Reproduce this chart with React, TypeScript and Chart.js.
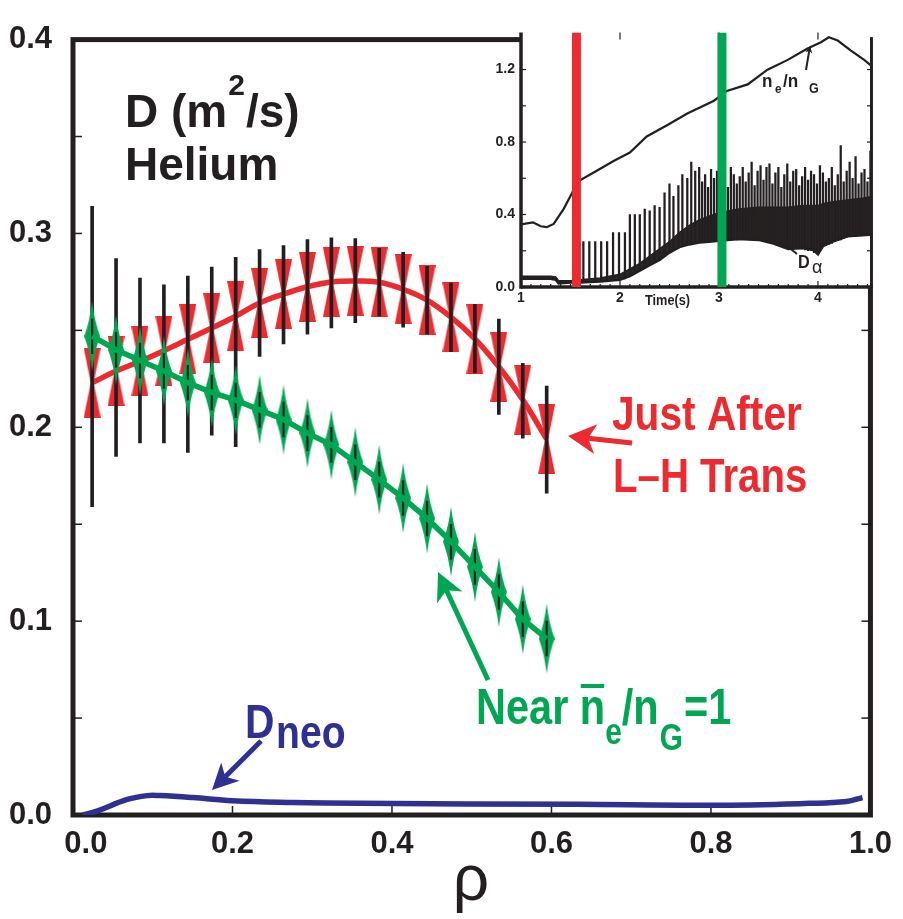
import React, { useEffect, useRef } from 'react';
import { Chart, registerables } from 'chart.js';

Chart.register(...registerables);

const FONT = "'Liberation Sans', Arial, Helvetica, sans-serif";
const INK = '#231f20';
const RED = '#ec2a30';
const GREEN = '#00a651';
const BLUE = '#2e3192';

// ---------- main panel data ----------
const rho = [0.024, 0.054, 0.084, 0.114, 0.144, 0.174, 0.204, 0.234, 0.264, 0.294, 0.324, 0.354, 0.384, 0.414, 0.444, 0.474, 0.504, 0.534, 0.564, 0.594];
const dJustAfter = [0.223, 0.229, 0.234, 0.2395, 0.2454, 0.2512, 0.2573, 0.2641, 0.2687, 0.2725, 0.275, 0.2755, 0.2748, 0.2712, 0.2656, 0.2568, 0.2456, 0.2312, 0.2142, 0.1939];
const errJustAfterLo = [0.159, 0.185, 0.192, 0.192, 0.187, 0.196, 0.19, 0.2365, 0.243, 0.248, 0.2513, 0.254, 0.2573, 0.2517, 0.248, 0.239, 0.228, 0.2067, 0.1944, 0.166];
const errJustAfterHi = [0.314, 0.287, 0.277, 0.2735, 0.278, 0.2826, 0.2877, 0.2917, 0.2937, 0.2968, 0.2978, 0.2973, 0.2923, 0.2902, 0.283, 0.2745, 0.2634, 0.2558, 0.233, 0.2213];
const dNearGreenwald = [0.247, 0.240, 0.2345, 0.229, 0.223, 0.218, 0.214, 0.209, 0.204, 0.197, 0.191, 0.182, 0.173, 0.1635, 0.153, 0.141, 0.128, 0.115, 0.101, 0.091];
const errNearGreenwald = [0.009, 0.009, 0.009, 0.009, 0.009, 0.009, 0.009, 0.009, 0.009, 0.009, 0.009, 0.009, 0.009, 0.009, 0.009, 0.009, 0.009, 0.009, 0.009, 0.009];
const neoRho = [0.012, 0.03, 0.068, 0.093, 0.109, 0.15, 0.2, 0.275, 0.358, 0.633, 0.8, 0.923, 0.97, 0.99];
const dNeo = [0.0, 0.002, 0.008, 0.010, 0.010, 0.009, 0.0074, 0.0065, 0.006, 0.0055, 0.005, 0.006, 0.007, 0.009];

const xTickValues = [0, 0.2, 0.4, 0.6, 0.8, 1.0];
const xTickLabels = ['0.0', '0.2', '0.4', '0.6', '0.8', '1.0'];
const yTickValues = [0, 0.1, 0.2, 0.3, 0.4];
const yTickLabels = ['0.0', '0.1', '0.2', '0.3', '0.4'];
const yTickMarks = [0.05, 0.1, 0.15, 0.2, 0.25, 0.3, 0.35];

// ---------- inset data ----------
const insetTimeRange = [1.0, 4.556];
const insetYRange = [0, 1.405];
const insetXTicks = [1, 2, 3, 4];
const insetXTickLabels = ['1', '2', '3', '4'];
const insetYTicks = [0, 0.4, 0.8, 1.2];
const insetYTickLabels = ['0.0', '0.4', '0.8', '1.2'];
const insetYTickMarks = [0.2, 0.4, 0.6, 0.8, 1.0, 1.2];
const insetXMinorTicks = [1.1, 1.2, 1.3, 1.4, 1.5, 1.6, 1.7, 1.8, 1.9, 2.1, 2.2, 2.3, 2.4, 2.5, 2.6, 2.7, 2.8, 2.9, 3.1, 3.2, 3.3, 3.4, 3.5, 3.6, 3.7, 3.8, 3.9, 4.1, 4.2, 4.3, 4.4, 4.5];
const lhTime = 1.56;
const nearGreenwaldTime = 3.03;

const neTime = [1.0, 1.12, 1.2, 1.26, 1.33, 1.43, 1.55, 1.6, 1.77, 1.94, 2.1, 2.27, 2.48, 2.68, 2.95, 3.08, 3.29, 3.49, 3.69, 3.89, 4.03, 4.11, 4.2, 4.33, 4.47, 4.55];
const neOverNG = [0.345, 0.357, 0.335, 0.33, 0.348, 0.43, 0.554, 0.59, 0.643, 0.697, 0.742, 0.831, 0.894, 0.957, 1.028, 1.082, 1.118, 1.199, 1.252, 1.315, 1.351, 1.378, 1.36, 1.306, 1.252, 1.216];

const dAlphaBandTime = [1.0, 1.3, 1.35, 1.38, 1.5, 1.6, 1.8, 2.0, 2.1, 2.2, 2.3, 2.4, 2.5, 2.6, 2.7, 2.8, 2.9, 3.0, 3.2, 3.4, 3.55, 3.7, 3.85, 3.95, 4.0, 4.05, 4.15, 4.3, 4.45, 4.55];
const dAlphaBandLo = [0.045, 0.045, 0.04, 0.02, 0.025, 0.025, 0.03, 0.04, 0.06, 0.09, 0.12, 0.15, 0.19, 0.22, 0.235, 0.245, 0.25, 0.255, 0.265, 0.26, 0.24, 0.21, 0.215, 0.205, 0.18, 0.225, 0.25, 0.28, 0.285, 0.29];
const dAlphaBandHi = [0.06, 0.06, 0.055, 0.035, 0.035, 0.04, 0.05, 0.07, 0.1, 0.13, 0.17, 0.21, 0.25, 0.3, 0.34, 0.37, 0.39, 0.41, 0.43, 0.44, 0.44, 0.44, 0.45, 0.45, 0.45, 0.46, 0.47, 0.48, 0.49, 0.5];

const elmTime = [1.63, 1.69, 1.75, 1.81, 1.87, 1.93, 1.99, 2.05, 2.10, 2.15, 2.20, 2.25, 2.30, 2.35, 2.40, 2.45, 2.50, 2.54, 2.59, 2.63, 2.68, 2.72, 2.76, 2.80, 2.83, 2.86, 2.89, 2.92, 2.95, 2.98,
  3.06, 3.09, 3.12, 3.15, 3.18, 3.21, 3.24, 3.27, 3.30, 3.33, 3.36, 3.39, 3.42, 3.45, 3.48, 3.51, 3.54, 3.57, 3.60, 3.63, 3.66, 3.69, 3.72, 3.75, 3.78, 3.81, 3.84, 3.87, 3.90, 3.93, 3.96, 3.99,
  4.02, 4.05, 4.08, 4.11, 4.14, 4.17, 4.20, 4.23, 4.26, 4.29, 4.32, 4.35, 4.38, 4.41, 4.44, 4.47, 4.50, 4.53];
const elmLo = [0.03, 0.03, 0.03, 0.03, 0.035, 0.035, 0.04, 0.045, 0.06, 0.075, 0.09, 0.105, 0.12, 0.135, 0.15, 0.17, 0.19, 0.2, 0.215, 0.225, 0.235, 0.24, 0.24, 0.245, 0.245, 0.25, 0.25, 0.25, 0.25, 0.25,
  0.255, 0.255, 0.26, 0.26, 0.26, 0.265, 0.265, 0.265, 0.265, 0.265, 0.26, 0.26, 0.26, 0.255, 0.25, 0.25, 0.245, 0.24, 0.235, 0.23, 0.22, 0.215, 0.21, 0.21, 0.215, 0.21, 0.21, 0.205, 0.20, 0.20, 0.19, 0.19,
  0.21, 0.225, 0.23, 0.235, 0.24, 0.25, 0.255, 0.26, 0.27, 0.275, 0.28, 0.28, 0.28, 0.285, 0.285, 0.285, 0.29, 0.29];
const elmHi = [0.25, 0.25, 0.25, 0.25, 0.25, 0.30, 0.30, 0.30, 0.40, 0.40, 0.40, 0.43, 0.42, 0.45, 0.44, 0.52, 0.57, 0.50, 0.56, 0.62, 0.60, 0.69, 0.64, 0.66, 0.58, 0.62, 0.55, 0.65, 0.60, 0.64,
  0.63, 0.55, 0.66, 0.62, 0.57, 0.61, 0.66, 0.58, 0.63, 0.69, 0.56, 0.64, 0.67, 0.59, 0.66, 0.68, 0.57, 0.63, 0.66, 0.55, 0.62, 0.68, 0.58, 0.64, 0.65, 0.56, 0.61, 0.66, 0.59, 0.64, 0.62, 0.57,
  0.67, 0.63, 0.58, 0.60, 0.66, 0.56, 0.62, 0.78, 0.58, 0.64, 0.69, 0.60, 0.72, 0.57, 0.63, 0.65, 0.58, 0.75];

// ---------- helpers ----------
function drawText(ctx: CanvasRenderingContext2D, s: string, x: number, y: number, size: number, color: string, sx = 1, weight = 'bold') {
  ctx.save();
  ctx.font = `${weight} ${size}px ${FONT}`;
  ctx.fillStyle = color;
  ctx.textAlign = 'left';
  ctx.textBaseline = 'alphabetic';
  ctx.translate(x, y);
  ctx.scale(sx, 1);
  ctx.fillText(s, 0, 0);
  const w = ctx.measureText(s).width * sx;
  ctx.restore();
  return x + w;
}

function drawArrow(ctx: CanvasRenderingContext2D, x1: number, y1: number, x2: number, y2: number, color: string, lw: number, headLen: number, headHalf: number) {
  const ang = Math.atan2(y2 - y1, x2 - x1);
  const c = Math.cos(ang), s = Math.sin(ang);
  const bx = x2 - headLen * c, by = y2 - headLen * s;
  const notch = headLen * 0.72;
  const nx = x2 - notch * c, ny = y2 - notch * s;
  ctx.save();
  ctx.strokeStyle = color;
  ctx.fillStyle = color;
  ctx.lineWidth = lw;
  ctx.beginPath();
  ctx.moveTo(x1, y1);
  ctx.lineTo(nx, ny);
  ctx.stroke();
  ctx.beginPath();
  ctx.moveTo(x2, y2);
  ctx.lineTo(bx - headHalf * s, by + headHalf * c);
  ctx.lineTo(nx, ny);
  ctx.lineTo(bx + headHalf * s, by - headHalf * c);
  ctx.closePath();
  ctx.fill();
  ctx.restore();
}

function seg(ctx: CanvasRenderingContext2D, x1: number, y1: number, x2: number, y2: number) {
  ctx.beginPath();
  ctx.moveTo(x1, y1);
  ctx.lineTo(x2, y2);
  ctx.stroke();
}

function makeBowtie(color: string) {
  const c = document.createElement('canvas');
  c.width = 17; c.height = 70;
  const g = c.getContext('2d')!;
  g.fillStyle = color;
  g.beginPath();
  g.moveTo(0, 0); g.lineTo(17, 0); g.lineTo(10, 35); g.lineTo(17, 70); g.lineTo(0, 70); g.lineTo(7, 35);
  g.closePath();
  g.fill();
  return c;
}

function makeSpindle(color: string) {
  const c = document.createElement('canvas');
  c.width = 16; c.height = 70;
  const g = c.getContext('2d')!;
  g.fillStyle = color;
  g.beginPath();
  g.moveTo(8, 0);
  g.quadraticCurveTo(10.5, 21, 16, 35);
  g.quadraticCurveTo(10.5, 49, 8, 70);
  g.quadraticCurveTo(5.5, 49, 0, 35);
  g.quadraticCurveTo(5.5, 21, 8, 0);
  g.closePath();
  g.fill();
  return c;
}

const mainDecor = {
  id: 'mainDecor',
  beforeDatasetsDraw(chart: any) {
    const { ctx, chartArea: a, scales } = chart;
    const x = scales.x, y = scales.y;
    ctx.save();
    ctx.strokeStyle = INK;
    ctx.lineWidth = 5;
    ctx.strokeRect(a.left, a.top, a.right - a.left, a.bottom - a.top);
    ctx.lineWidth = 1.5;
    yTickMarks.forEach((v) => {
      const py = y.getPixelForValue(v);
      seg(ctx, a.left, py, a.left + 9, py);
      seg(ctx, a.right, py, a.right - 9, py);
    });
    xTickValues.slice(1, -1).forEach((v) => {
      const px = x.getPixelForValue(v);
      seg(ctx, px, a.bottom, px, a.bottom - 9);
    });
    ctx.restore();
  },
  afterDraw(chart: any) {
    const ctx: CanvasRenderingContext2D = chart.ctx;
    // title
    let tx = drawText(ctx, 'D (m', 125, 127, 46, INK);
    tx = drawText(ctx, '2', tx + 1, 95, 30, INK);
    drawText(ctx, '/s)', tx + 1, 127, 46, INK);
    drawText(ctx, 'Helium', 125, 180, 46, INK);
    // red label
    drawText(ctx, 'Just After', 612, 430, 49, RED, 0.83);
    drawText(ctx, 'L\u2013H Trans', 613, 492, 49, RED, 0.82);
    drawArrow(ctx, 632, 443, 568, 436, RED, 5, 28, 15);
    // green label
    let gx = drawText(ctx, 'Near ', 476, 724, 50, GREEN, 0.83);
    const nStart = gx;
    gx = drawText(ctx, 'n', gx, 724, 50, GREEN, 0.83);
    ctx.save();
    ctx.fillStyle = GREEN;
    ctx.fillRect(nStart + 1, 684, gx - nStart - 2, 4);
    ctx.restore();
    gx = drawText(ctx, 'e', gx, 744, 36, GREEN, 0.83);
    gx = drawText(ctx, '/n', gx, 724, 50, GREEN, 0.83);
    gx = drawText(ctx, 'G', gx + 1, 750, 36, GREEN, 0.83);
    drawText(ctx, '=1', gx + 1, 724, 50, GREEN, 0.83);
    drawArrow(ctx, 488, 680, 438, 572, GREEN, 5, 28, 14);
    // blue label
    drawText(ctx, 'D', 245, 738, 48, BLUE, 0.85);
    drawText(ctx, 'neo', 276, 748, 46, BLUE, 0.85);
    drawArrow(ctx, 261, 741, 212, 790, BLUE, 5, 26, 13);
    // axis title
    ctx.save();
    ctx.font = `normal 64px ${FONT}`;
    ctx.fillStyle = INK;
    ctx.textAlign = 'center';
    ctx.textBaseline = 'alphabetic';
    ctx.fillText('\u03c1', 471, 900);
    ctx.restore();
  },
};

const INSET_LEFT = 480;
const INSET_TOP = 18;

const insetDecor = {
  id: 'insetDecor',
  beforeDatasetsDraw(chart: any) {
    const { ctx, chartArea: a, scales } = chart;
    const x = scales.x, y = scales.y;
    ctx.save();
    ctx.fillStyle = '#ffffff';
    ctx.fillRect(a.left, a.top + 3, a.right - a.left - 3, a.bottom - a.top - 3);
    ctx.strokeStyle = INK;
    ctx.lineWidth = 1.2;
    insetYTickMarks.forEach((v) => {
      const py = y.getPixelForValue(v);
      seg(ctx, a.left, py, a.left + 5, py);
      seg(ctx, a.right - 1, py, a.right - 6, py);
    });
    insetXTicks.slice(1).forEach((v) => {
      const px = x.getPixelForValue(v);
      seg(ctx, px, a.bottom, px, a.bottom - 6);
      seg(ctx, px, a.top, px, a.top + 7);
    });
    insetXMinorTicks.forEach((v) => {
      const px = x.getPixelForValue(v);
      seg(ctx, px, a.bottom, px, a.bottom - 3);
    });
    ctx.lineWidth = 3.5;
    seg(ctx, a.left, a.top, a.left, a.bottom + 1.75);
    seg(ctx, a.left, a.bottom, a.right, a.bottom);
    ctx.restore();
  },
  afterDraw(chart: any) {
    const ctx: CanvasRenderingContext2D = chart.ctx;
    ctx.save();
    ctx.translate(-INSET_LEFT, -INSET_TOP);
    drawText(ctx, 'n', 762, 87, 19, INK, 0.9);
    drawText(ctx, 'e', 775, 93, 13, INK, 0.9);
    drawText(ctx, '/n', 783, 87, 19, INK, 0.9);
    drawText(ctx, 'G', 809, 93, 14, INK, 0.9);
    drawArrow(ctx, 806, 70, 810, 46, INK, 2, 7, 3.5);
    drawText(ctx, 'D', 798, 268, 18, INK, 0.9);
    drawText(ctx, '\u03b1', 812, 273, 18, INK, 1, 'normal');
    ctx.strokeStyle = INK;
    ctx.lineWidth = 2;
    seg(ctx, 797, 254, 782, 242);
    drawText(ctx, 'Time(s)', 645, 305, 15, INK, 0.85);
    ctx.restore();
  },
};

export default function App() {
  const mainRef = useRef<HTMLCanvasElement | null>(null);
  const insetRef = useRef<HTMLCanvasElement | null>(null);

  useEffect(() => {
    Chart.defaults.font.family = FONT;
    const bowtie = makeBowtie(RED);
    const spindle = makeSpindle(GREEN);

    const redPts = rho.map((x, i) => ({ x, y: dJustAfter[i] }));
    const greenPts = rho.map((x, i) => ({ x, y: dNearGreenwald[i] }));

    const main = new Chart(mainRef.current!, {
      type: 'line',
      data: {
        datasets: [
          { label: 'D neo', data: neoRho.map((x, i) => ({ x, y: dNeo[i] })), borderColor: BLUE, borderWidth: 5.5, pointRadius: 0, tension: 0.4 } as any,
          { label: 'Near ne/nG=1 line', data: greenPts, borderColor: GREEN, borderWidth: 5.5, pointRadius: 0, tension: 0 },
          { type: 'bar', label: 'Near ne/nG=1 error', data: rho.map((x, i) => ({ x, y: [dNearGreenwald[i] - errNearGreenwald[i], dNearGreenwald[i] + errNearGreenwald[i]] })), backgroundColor: INK, barThickness: 1.5, grouped: false, borderWidth: 0 } as any,
          { label: 'Near ne/nG=1', data: greenPts, showLine: false, pointStyle: spindle, pointRadius: 6 } as any,
          { type: 'bar', label: 'Just After error', data: rho.map((x, i) => ({ x, y: [errJustAfterLo[i], errJustAfterHi[i]] })), backgroundColor: INK, barThickness: 3, grouped: false, borderWidth: 0 } as any,
          { label: 'Just After line', data: redPts, borderColor: RED, borderWidth: 5.5, pointRadius: 0, tension: 0.4 },
          { label: 'Just After L-H Trans', data: redPts, showLine: false, pointStyle: bowtie, pointRadius: 6 } as any,
        ],
      },
      options: {
        responsive: false,
        maintainAspectRatio: false,
        animation: false,
        events: [],
        layout: { padding: { top: 25, right: 28, left: 0, bottom: 0 } },
        plugins: { legend: { display: false }, tooltip: { enabled: false } },
        scales: {
          x: {
            type: 'linear', min: 0, max: 1, offset: false,
            grid: { display: false, drawTicks: false, offset: false },
            border: { display: false },
            afterBuildTicks: (s: any) => { s.ticks = xTickValues.map((v) => ({ value: v })); },
            afterFit: (s: any) => { s.height = 104; },
            ticks: {
              autoSkip: false, maxRotation: 0, padding: 11, color: INK,
              font: { family: FONT, size: 31, weight: 'bold' },
              callback: (_v: any, i: number) => (i === 0 ? '   ' + xTickLabels[i] : xTickLabels[i]),
            },
          },
          y: {
            type: 'linear', min: 0, max: 0.4,
            grid: { display: false, drawTicks: false },
            border: { display: false },
            afterBuildTicks: (s: any) => { s.ticks = yTickValues.map((v) => ({ value: v })); },
            afterFit: (s: any) => { s.width = 73; },
            ticks: {
              autoSkip: false, padding: 21, color: INK,
              font: { family: FONT, size: 31, weight: 'bold' },
              callback: (_v: any, i: number) => yTickLabels[i],
            },
          },
        },
      } as any,
      plugins: [mainDecor],
    });

    const inset = new Chart(insetRef.current!, {
      type: 'line',
      data: {
        datasets: [
          { label: 'L-H transition', data: [{ x: lhTime, y: insetYRange[0] }, { x: lhTime, y: insetYRange[1] }], borderColor: RED, borderWidth: 9, pointRadius: 0, borderCapStyle: 'butt' } as any,
          { label: 'Near Greenwald', data: [{ x: nearGreenwaldTime, y: insetYRange[0] }, { x: nearGreenwaldTime, y: insetYRange[1] }], borderColor: GREEN, borderWidth: 9, pointRadius: 0, borderCapStyle: 'butt' } as any,
          { label: 'ne/nG', data: neTime.map((x, i) => ({ x, y: neOverNG[i] })), borderColor: INK, borderWidth: 2.2, pointRadius: 0, tension: 0 },
          { type: 'bar', label: 'D alpha ELMs', data: elmTime.map((x, i) => ({ x, y: [elmLo[i], elmHi[i]] })), backgroundColor: INK, barThickness: 1.6, grouped: false, borderWidth: 0 } as any,
          { label: 'D alpha top', data: dAlphaBandTime.map((x, i) => ({ x, y: dAlphaBandHi[i] })), borderColor: INK, borderWidth: 1.5, pointRadius: 0, tension: 0 },
          { label: 'D alpha base', data: dAlphaBandTime.map((x, i) => ({ x, y: dAlphaBandLo[i] })), borderColor: INK, borderWidth: 2.5, pointRadius: 0, tension: 0, fill: '-1', backgroundColor: '#2a2627' } as any,
        ],
      },
      options: {
        responsive: false,
        maintainAspectRatio: false,
        animation: false,
        events: [],
        layout: { padding: { top: 7, right: 10, left: 0, bottom: 0 } },
        plugins: { legend: { display: false }, tooltip: { enabled: false } },
        scales: {
          x: {
            type: 'linear', min: insetTimeRange[0], max: insetTimeRange[1], offset: false,
            grid: { display: false, drawTicks: false, offset: false },
            border: { display: false },
            afterBuildTicks: (s: any) => { s.ticks = insetXTicks.map((v) => ({ value: v })); },
            afterFit: (s: any) => { s.height = 26; },
            ticks: {
              autoSkip: false, maxRotation: 0, padding: 3, color: INK,
              font: { family: FONT, size: 14, weight: 'bold' },
              callback: (_v: any, i: number) => insetXTickLabels[i],
            },
          },
          y: {
            type: 'linear', min: insetYRange[0], max: insetYRange[1],
            grid: { display: false, drawTicks: false },
            border: { display: false },
            afterBuildTicks: (s: any) => { s.ticks = insetYTicks.map((v) => ({ value: v })); },
            afterFit: (s: any) => { s.width = 41; },
            ticks: {
              autoSkip: false, padding: 6, color: INK,
              font: { family: FONT, size: 14, weight: 'bold' },
              callback: (_v: any, i: number) => insetYTickLabels[i],
            },
          },
        },
      } as any,
      plugins: [insetDecor],
    });

    return () => {
      main.destroy();
      inset.destroy();
    };
  }, []);

  return (
    <div style={{ position: 'absolute', left: 0, top: 0, width: 903, height: 919, background: '#ffffff', overflow: 'hidden' }}>
      <canvas ref={mainRef} width={903} height={919} style={{ position: 'absolute', left: 0, top: 0, width: 903, height: 919 }} />
      <canvas ref={insetRef} width={403} height={295} style={{ position: 'absolute', left: INSET_LEFT, top: INSET_TOP, width: 403, height: 295 }} />
    </div>
  );
}
